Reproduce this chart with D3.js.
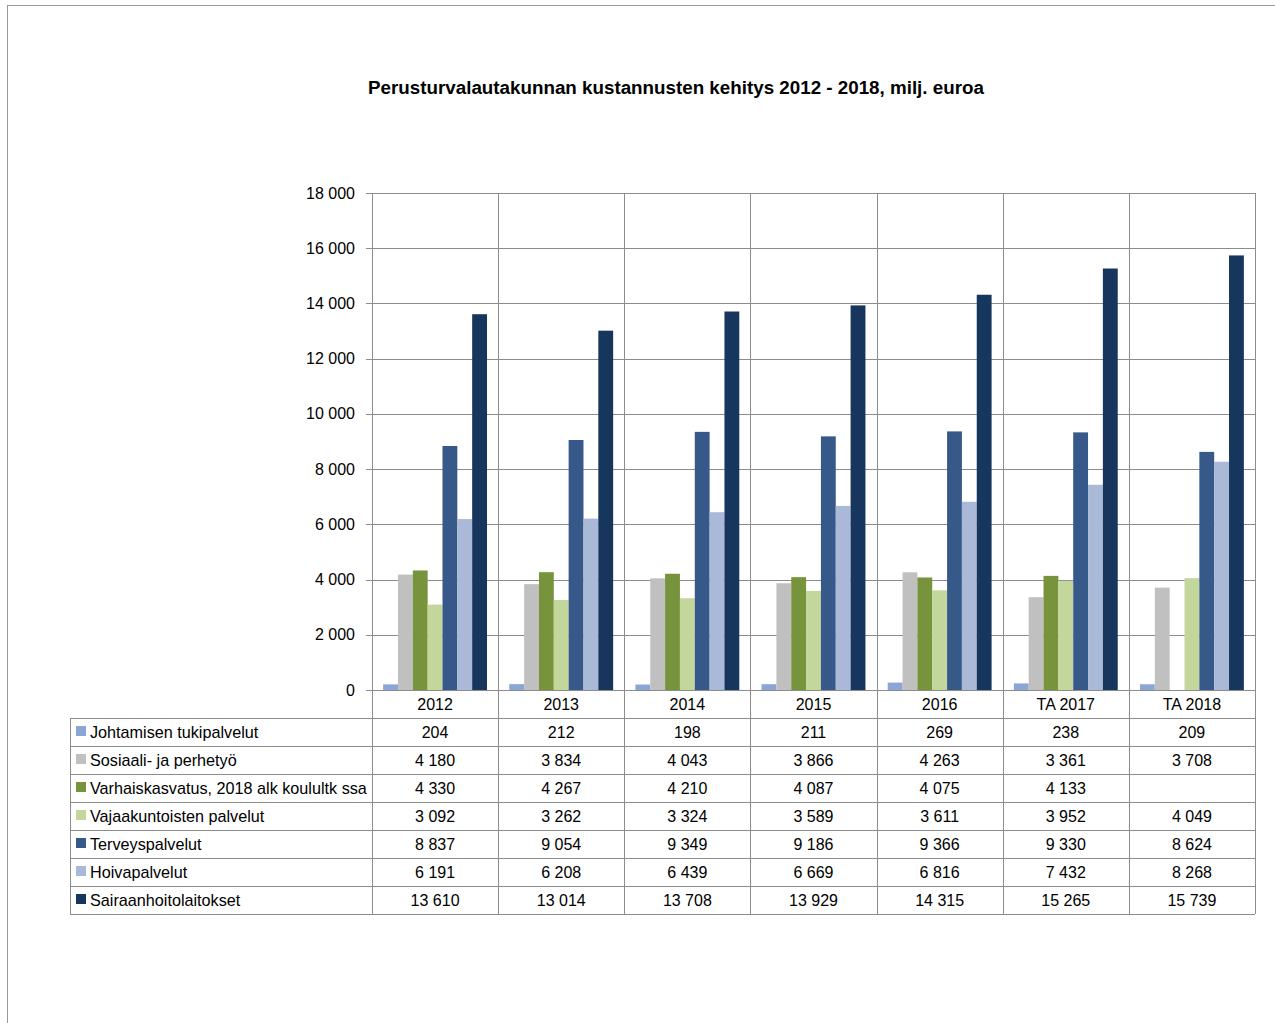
<!DOCTYPE html>
<html>
<head>
<meta charset="utf-8">
<script src="https://cdnjs.cloudflare.com/ajax/libs/d3/7.8.5/d3.min.js"></script>
<style>
  body { margin: 0; background: #fff; }
  text { font-family: "Liberation Sans", Arial, sans-serif; fill: #000; }
</style>
</head>
<body>
<svg width="1275" height="1023"></svg>
<script>
let years = ["2012", "2013", "2014", "2015", "2016", "TA 2017", "TA 2018"];
let seriesNames = [
  "Johtamisen tukipalvelut",
  "Sosiaali- ja perhetyö",
  "Varhaiskasvatus, 2018 alk koulultk ssa",
  "Vajaakuntoisten palvelut",
  "Terveyspalvelut",
  "Hoivapalvelut",
  "Sairaanhoitolaitokset"
];
let johtaminen = [204, 212, 198, 211, 269, 238, 209];
let sosiaali = [4180, 3834, 4043, 3866, 4263, 3361, 3708];
let varhais = [4330, 4267, 4210, 4087, 4075, 4133, null];
let vajaa = [3092, 3262, 3324, 3589, 3611, 3952, 4049];
let terveys = [8837, 9054, 9349, 9186, 9366, 9330, 8624];
let hoiva = [6191, 6208, 6439, 6669, 6816, 7432, 8268];
let sairaan = [13610, 13014, 13708, 13929, 14315, 15265, 15739];
let yTicks = [0, 2000, 4000, 6000, 8000, 10000, 12000, 14000, 16000, 18000];

let colors = ["#8ba6d4", "#c0c0c0", "#77933c", "#c3d69b", "#37598a", "#aab9d8", "#17365d"];
let allSeries = [johtaminen, sosiaali, varhais, vajaa, terveys, hoiva, sairaan];

let svg = d3.select("svg");
let fmt = v => v == null ? "" : d3.format(",")(v).replace(/,/g, " ");

// page frame
svg.append("line").attr("x1", 7).attr("y1", 5.5).attr("x2", 1275).attr("y2", 5.5).attr("stroke", "#999");
svg.append("line").attr("x1", 7.5).attr("y1", 5).attr("x2", 7.5).attr("y2", 1023).attr("stroke", "#999");

svg.append("text")
  .attr("x", 676).attr("y", 94)
  .attr("text-anchor", "middle")
  .style("font-weight", "bold").style("font-size", "18.8px")
  .text("Perusturvalautakunnan kustannusten kehitys 2012 - 2018, milj. euroa");

let pLeft = 372, pRight = 1255, pTop = 193, pBottom = 690;
let x = d3.scaleBand().domain(years).range([pLeft, pRight]);
let y = d3.scaleLinear().domain([0, 18000]).range([pBottom, pTop]);
let xInner = d3.scaleBand().domain(d3.range(7)).range([0, x.bandwidth()]).paddingOuter(0.75).paddingInner(0);

// gridlines
let g = svg.append("g");
g.selectAll(".hg").data(yTicks).enter().append("line")
  .attr("x1", pLeft - 6).attr("x2", pRight)
  .attr("y1", d => Math.round(y(d)) + 0.5).attr("y2", d => Math.round(y(d)) + 0.5)
  .attr("stroke", "#8c8c8c");
g.selectAll(".vg").data(years.concat(["end"])).enter().append("line")
  .attr("x1", (d, i) => Math.round(pLeft + i * x.bandwidth()) + 0.5)
  .attr("x2", (d, i) => Math.round(pLeft + i * x.bandwidth()) + 0.5)
  .attr("y1", pTop).attr("y2", 914)
  .attr("stroke", "#8c8c8c");

// y axis labels
svg.append("g").selectAll("text").data(yTicks).enter().append("text")
  .attr("x", 355).attr("y", d => y(d) + 5.5)
  .attr("text-anchor", "end").style("font-size", "16px")
  .text(d => fmt(d));

// bars
allSeries.forEach((s, si) => {
  svg.append("g").selectAll("rect").data(years).enter()
    .filter((d, i) => s[i] != null)
    .append("rect")
    .attr("x", d => x(d) + xInner(si))
    .attr("width", xInner.bandwidth())
    .attr("y", d => y(s[years.indexOf(d)]))
    .attr("height", d => pBottom - y(s[years.indexOf(d)]))
    .attr("fill", colors[si]);
});

// data table
let rowH = 28;
let tableTop = 718;
svg.append("g").selectAll("text").data(years).enter().append("text")
  .attr("x", d => x(d) + x.bandwidth() / 2).attr("y", 710)
  .attr("text-anchor", "middle").style("font-size", "16px")
  .text(d => d);

let tg = svg.append("g");
d3.range(8).forEach(r => {
  tg.append("line")
    .attr("x1", 70).attr("x2", pRight)
    .attr("y1", tableTop + r * rowH + 0.5).attr("y2", tableTop + r * rowH + 0.5)
    .attr("stroke", "#8c8c8c");
});
tg.append("line").attr("x1", 70.5).attr("x2", 70.5).attr("y1", tableTop).attr("y2", tableTop + 7 * rowH).attr("stroke", "#8c8c8c");

allSeries.forEach((s, si) => {
  let cy = tableTop + si * rowH + rowH / 2;
  tg.append("rect").attr("x", 76).attr("y", cy - 6).attr("width", 10).attr("height", 10).attr("fill", colors[si]);
  tg.append("text").attr("x", 90).attr("y", cy + 5.5).style("font-size", "16.2px").text(seriesNames[si]);
  tg.selectAll(null).data(years).enter().append("text")
    .attr("x", d => x(d) + x.bandwidth() / 2).attr("y", cy + 5.5)
    .attr("text-anchor", "middle").style("font-size", "16px")
    .text((d, i) => fmt(s[i]));
});
</script>
</body>
</html>
